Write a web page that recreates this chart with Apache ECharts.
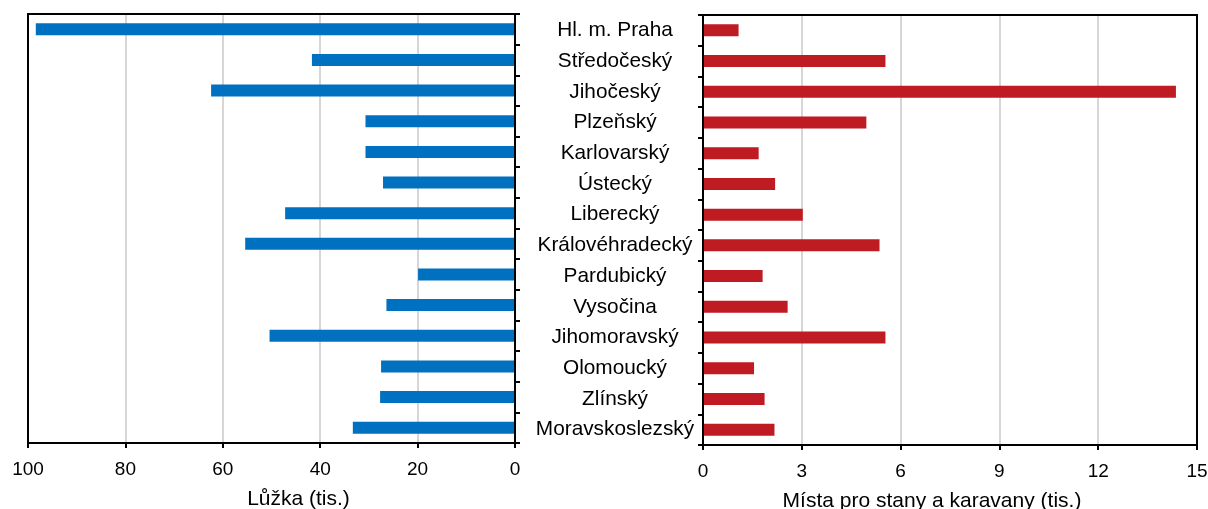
<!DOCTYPE html>
<html>
<head>
<meta charset="utf-8">
<script src="https://cdn.jsdelivr.net/npm/echarts@6/dist/echarts.min.js"></script>
<style>
html,body{margin:0;padding:0;background:#fff;}
#c{width:1208px;height:509px;}
</style>
</head>
<body>
<div id="c"></div>
<script>
const regions = ["Hl. m. Praha","Středočeský","Jihočeský","Plzeňský","Karlovarský","Ústecký","Liberecký","Královéhradecký","Pardubický","Vysočina","Jihomoravský","Olomoucký","Zlínský","Moravskoslezský"];
const beds = [98.4, 41.7, 62.4, 30.7, 30.7, 27.1, 47.2, 55.4, 19.9, 26.4, 50.4, 27.5, 27.7, 33.3];
const campPlaces = [1.08, 5.54, 14.36, 4.96, 1.69, 2.19, 3.03, 5.36, 1.81, 2.57, 5.54, 1.55, 1.87, 2.17];
const bedsTicks = {min: 0, max: 100, interval: 20};
const campTicks = {min: 0, max: 15, interval: 3};
const bedsName = "Lůžka (tis.)";
const campName = "Místa pro stany a karavany (tis.)";

const FONT = '"Liberation Sans", Arial, sans-serif';
const FS_TICK = 19;
const FS_CAT = 20.8;
const FS_NAME = 21;
const chart = echarts.init(document.getElementById('c'), null, {renderer: 'canvas'});
const axisLineStyle = {color: '#000', width: 2};
chart.setOption({
  animation: false,
  textStyle: {fontFamily: FONT},
  grid: [
    {left: 28, right: 693, top: 14, bottom: 66, show: true, z: 3, borderColor: '#000', borderWidth: 2, containLabel: false, outerBoundsMode: 'none'},
    {left: 703, right: 11, top: 15, bottom: 64, show: true, z: 3, borderColor: '#000', borderWidth: 2, containLabel: false, outerBoundsMode: 'none'}
  ],
  xAxis: [
    {
      gridIndex: 0, type: 'value', inverse: true,
      min: bedsTicks.min, max: bedsTicks.max, interval: bedsTicks.interval,
      axisLine: {show: true, lineStyle: axisLineStyle},
      axisTick: {show: true, length: 5, lineStyle: {color: '#000', width: 2}},
      axisLabel: {fontSize: FS_TICK, color: '#000', fontFamily: FONT, margin: 17},
      splitLine: {show: true, lineStyle: {color: '#c8c8c8', width: 1.5}},
      name: bedsName, nameLocation: 'middle', nameGap: 46,
      nameTextStyle: {fontSize: FS_NAME, color: '#000', fontFamily: FONT, padding: [0, 0, 0, 54]}
    },
    {
      gridIndex: 1, type: 'value',
      min: campTicks.min, max: campTicks.max, interval: campTicks.interval,
      axisLine: {show: true, lineStyle: axisLineStyle},
      axisTick: {show: true, length: 5, lineStyle: {color: '#000', width: 2}},
      axisLabel: {fontSize: FS_TICK, color: '#000', fontFamily: FONT, margin: 17},
      splitLine: {show: true, lineStyle: {color: '#c8c8c8', width: 1.5}},
      name: campName, nameLocation: 'middle', nameGap: 46,
      nameTextStyle: {fontSize: FS_NAME, color: '#000', fontFamily: FONT, padding: [0, 36, 0, 0]}
    }
  ],
  yAxis: [
    {
      gridIndex: 0, type: 'category', data: regions, inverse: true, position: 'right',
      axisLine: {show: true, lineStyle: axisLineStyle},
      axisTick: {show: true, length: 5, lineStyle: {color: '#000', width: 2}},
      axisLabel: {show: false},
      splitLine: {show: false}
    },
    {
      gridIndex: 1, type: 'category', data: regions, inverse: true, position: 'left',
      axisLine: {show: true, lineStyle: axisLineStyle},
      axisTick: {show: true, length: 5, lineStyle: {color: '#000', width: 2}},
      axisLabel: {show: true, fontSize: FS_CAT, color: '#000', fontFamily: FONT, align: 'center', margin: 88},
      splitLine: {show: false}
    }
  ],
  series: [
    {type: 'bar', xAxisIndex: 0, yAxisIndex: 0, data: beds, barWidth: 12, itemStyle: {color: '#0070C0'}},
    {type: 'bar', xAxisIndex: 1, yAxisIndex: 1, data: campPlaces, barWidth: 12, itemStyle: {color: '#BF1B23'}}
  ]
});
</script>
</body>
</html>
